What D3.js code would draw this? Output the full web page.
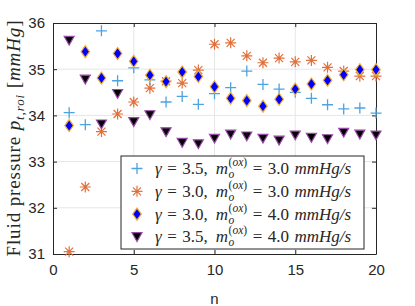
<!DOCTYPE html>
<html>
<head>
<meta charset="utf-8">
<script src="https://cdn.jsdelivr.net/npm/d3@7"></script>
<style>
  body { margin: 0; background: #fff; }
  #viz { width: 415px; height: 306px; }
  text { fill: #262626; }
</style>
</head>
<body>
<div id="viz"></div>
<script>
// -----------------------------
// DATA
// -----------------------------
const nValues = d3.range(1, 21);

const g35m30 = [34.06, 33.80, 35.83, 34.75, 35.03, 34.77, 34.29, 34.41, 34.24, 34.47,
                34.60, 34.96, 34.67, 34.57, 34.50, 34.37, 34.23, 34.14, 34.16, 34.05];
const g30m30 = [31.05, 32.45, 33.65, 34.03, 34.29, 34.59, 34.74, 34.70, 34.98, 35.54,
                35.57, 35.29, 35.14, 35.24, 35.16, 35.19, 35.04, 34.96, 34.85, 34.85];
const g30m40 = [33.78, 35.38, 34.81, 35.34, 35.17, 34.87, 34.73, 34.94, 34.84, 34.62,
                34.37, 34.32, 34.20, 34.35, 34.57, 34.68, 34.76, 34.88, 34.99, 34.99];
const g35m40 = [35.62, 34.78, 33.81, 34.47, 33.86, 34.01, 33.64, 33.41, 33.38, 33.50,
                33.59, 33.55, 33.50, 33.46, 33.57, 33.52, 33.49, 33.63, 33.59, 33.57];

const xTicks = [0, 5, 10, 15, 20];
const yTicks = [31, 32, 33, 34, 35, 36];

const legendGamma = ["3.5", "3.0", "3.0", "3.5"];
const legendM = ["3.0", "3.0", "4.0", "4.0"];

// -----------------------------
// LAYOUT
// -----------------------------
const width = 415, height = 306;
const margin = { left: 53, right: 39, top: 23, bottom: 52 };

const svg = d3.select("#viz").append("svg")
  .attr("width", width)
  .attr("height", height);

const x = d3.scaleLinear().domain([0, 20]).range([margin.left, width - margin.right]);
const y = d3.scaleLinear().domain([31, 36]).range([height - margin.bottom, margin.top]);

// grid
svg.append("g").selectAll("line.gx")
  .data(xTicks.slice(1, -1))
  .join("line")
  .attr("x1", d => x(d)).attr("x2", d => x(d))
  .attr("y1", y(31)).attr("y2", y(36))
  .attr("stroke", "#e6e6e6").attr("stroke-width", 1);

svg.append("g").selectAll("line.gy")
  .data(yTicks.slice(1, -1))
  .join("line")
  .attr("x1", x(0)).attr("x2", x(20))
  .attr("y1", d => y(d)).attr("y2", d => y(d))
  .attr("stroke", "#e6e6e6").attr("stroke-width", 1);

// axes
const tickFont = "'Liberation Sans', Arial, sans-serif";

const xAxis = svg.append("g")
  .attr("transform", `translate(0,${y(31)})`)
  .call(d3.axisBottom(x).tickValues(xTicks).tickFormat(d3.format("d"))
    .tickSizeInner(-4).tickSizeOuter(0).tickPadding(10));
const xAxisTop = svg.append("g")
  .attr("transform", `translate(0,${y(36)})`)
  .call(d3.axisTop(x).tickValues(xTicks).tickSizeInner(-4).tickSizeOuter(0).tickFormat(""));
const yAxis = svg.append("g")
  .attr("transform", `translate(${x(0)},0)`)
  .call(d3.axisLeft(y).tickValues(yTicks).tickFormat(d3.format("d"))
    .tickSizeInner(-4).tickSizeOuter(0).tickPadding(8));
const yAxisRight = svg.append("g")
  .attr("transform", `translate(${x(20)},0)`)
  .call(d3.axisRight(y).tickValues(yTicks).tickSizeInner(-4).tickSizeOuter(0).tickFormat(""));

[xAxis, xAxisTop, yAxis, yAxisRight].forEach(a => {
  a.select(".domain").attr("stroke", "#262626").attr("stroke-width", 1);
  a.selectAll(".tick line").attr("stroke", "#262626");
  a.selectAll(".tick text")
    .attr("font-family", tickFont)
    .attr("font-size", 15)
    .attr("fill", "#262626");
});

// axis labels
svg.append("text")
  .attr("x", x(10)).attr("y", 304)
  .attr("text-anchor", "middle")
  .attr("font-family", tickFont)
  .attr("font-size", 15)
  .text("n");

const ylab = svg.append("text")
  .attr("transform", `translate(20,${(y(31) + y(36)) / 2}) rotate(-90)`)
  .attr("text-anchor", "middle")
  .attr("font-family", "'Liberation Serif', 'DejaVu Serif', serif")
  .attr("font-size", 19)
  .attr("textLength", 236)
  .attr("lengthAdjust", "spacing");
ylab.append("tspan").text("Fluid pressure ");
ylab.append("tspan").attr("font-style", "italic").text("p");
ylab.append("tspan").attr("font-style", "italic").attr("font-size", 13).attr("dy", 4).text("t,roi");
ylab.append("tspan").attr("dy", -4).text(" [");
ylab.append("tspan").attr("font-style", "italic").text("mmHg");
ylab.append("tspan").text("]");

// -----------------------------
// MARKERS
// -----------------------------
const plot = svg.append("g");

const series = [
  { values: g35m30, kind: "plus" },
  { values: g30m30, kind: "star" },
  { values: g30m40, kind: "diamond" },
  { values: g35m40, kind: "tri" }
];

function drawMarker(g, kind) {
  if (kind === "plus") {
    g.append("path").attr("d", "M-5.5,0H5.5M0,-5.5V5.5")
      .attr("stroke", "#4da3df").attr("stroke-width", 1.3).attr("fill", "none");
  } else if (kind === "star") {
    const r = 5.5, rd = 4;
    g.append("path")
      .attr("d", `M-${r},0H${r}M0,-${r}V${r}M-${rd},-${rd}L${rd},${rd}M-${rd},${rd}L${rd},-${rd}`)
      .attr("stroke", "#e2703a").attr("stroke-width", 1.2).attr("fill", "none");
  } else if (kind === "diamond") {
    g.append("path").attr("d", "M0,-6L4.3,0L0,6L-4.3,0Z")
      .attr("fill", "#0000ff").attr("stroke", "#f0b030").attr("stroke-width", 1.2);
  } else {
    g.append("path").attr("d", "M-5,-4.2L5,-4.2L0,4.6Z")
      .attr("fill", "#000").attr("stroke", "#9a4aa8").attr("stroke-width", 1.2);
  }
}

series.forEach(s => {
  s.values.forEach((v, i) => {
    const g = plot.append("g").attr("transform", `translate(${x(nValues[i])},${y(v)})`);
    drawMarker(g, s.kind);
  });
});

// -----------------------------
// LEGEND
// -----------------------------
const legend = svg.append("g");
const lx0 = 121, ly0 = 156, lw = 243, lh = 93;
legend.append("rect")
  .attr("x", lx0).attr("y", ly0).attr("width", lw).attr("height", lh)
  .attr("fill", "#fff").attr("stroke", "#262626").attr("stroke-width", 1);

const serif = "'Liberation Serif', 'DejaVu Serif', serif";

// lay out a math-like label piece by piece, measuring each piece
function piece(txt, px, py, opts) {
  const el = legend.append("text")
    .attr("x", px).attr("y", py)
    .attr("font-family", serif)
    .attr("font-size", opts.size || 17)
    .attr("font-style", opts.italic ? "italic" : "normal")
    .text(txt);
  return el.node().getComputedTextLength();
}

series.forEach((s, i) => {
  const cy = 168.5 + i * 22.8;
  const g = legend.append("g").attr("transform", `translate(137,${cy})`);
  drawMarker(g, s.kind);
  const base = cy + 5.5;
  let cx = 155;
  cx += piece("γ", cx, base, { italic: true }) + 5.5;
  cx += piece("=", cx, base, {}) + 5.5;
  cx += piece(`${legendGamma[i]},`, cx, base, {}) + 8;
  cx += piece("m", cx, base, { italic: true }) + 0.5;
  const wSub = piece("o", cx, base + 4, { italic: true, size: 11.5 });
  let sx = cx;
  sx += piece("(", sx, base - 8, { size: 11.5 });
  sx += piece("ox", sx, base - 8, { italic: true, size: 11.5 });
  sx += piece(")", sx, base - 8, { size: 11.5 });
  cx = Math.max(cx + wSub, sx) + 5.5;
  cx += piece("=", cx, base, {}) + 5.5;
  cx += piece(legendM[i], cx, base, {}) + 5.5;
  piece("mmHg/s", cx, base, { italic: true });
});
</script>
</body>
</html>
